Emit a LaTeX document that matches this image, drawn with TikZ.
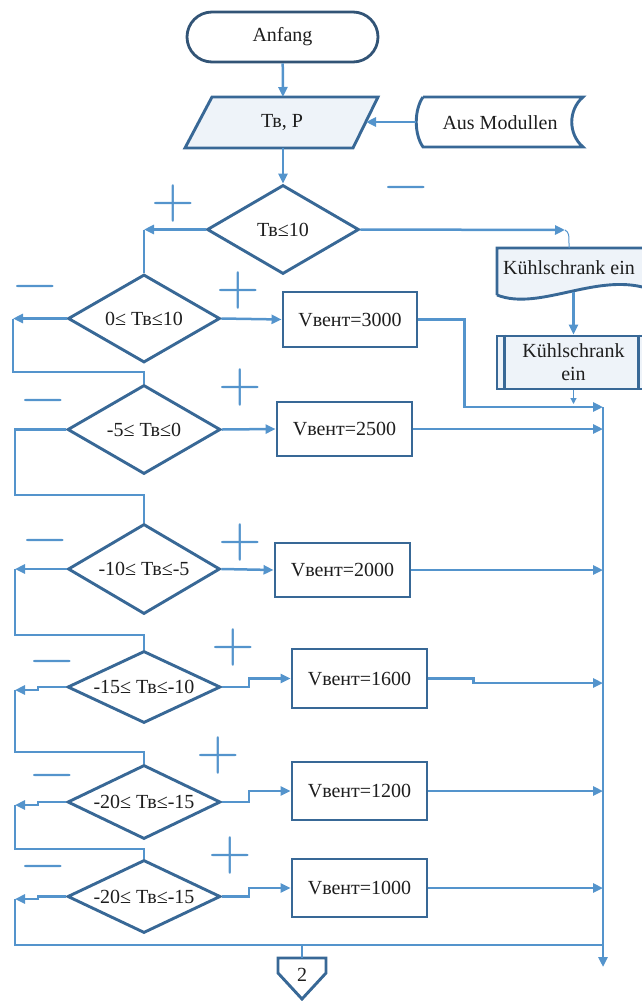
\documentclass[tikz,border=0pt]{standalone}
\usepackage{fontspec}
\setmainfont{Liberation Serif}
\newfontfamily\signfont{lmroman10-regular.otf}
\usepackage{tikz}
\usetikzlibrary{arrows.meta,shapes.geometric}

\definecolor{wireblue}{RGB}{84,148,204}
\definecolor{rimblue}{RGB}{56,104,150}
\definecolor{rimdark}{RGB}{50,84,118}
\definecolor{wash}{RGB}{238,243,249}
\definecolor{ink}{RGB}{30,30,30}

\begin{document}
\begin{tikzpicture}[
  x=1pt, y=-1pt,
  wire/.style={line width=2.5pt, wireblue},
  flow/.style={wire, -{Triangle[length=10pt,width=9pt]}},
  rimline/.style={draw=rimblue, line width=2.9pt},
  term/.style={draw=rimdark, line width=2.8pt, rectangle, rounded corners=25pt,
    minimum width=191pt, minimum height=50pt, fill=white},
  decide/.style={rimline, diamond, fill=white, aspect=2.1, inner sep=0pt},
  act/.style={rimline, rectangle, fill=white, inner sep=0pt},
  plusminus/.style={text=wireblue, inner sep=0pt, font=\signfont\fontsize{56}{56}\selectfont},
  every node/.style={font=\fontsize{20}{23}\selectfont, text=ink}]

\useasboundingbox (0,0) rectangle (641,1001);

% ---- start, input and the outside data --------------------------------
\node[term] (start) at (282.5,37) {Anfang};
\draw[rimline, fill=wash] (212,97) -- (378,97) -- (353,148) -- (185,148) -- cycle;
\node (inp) at (282,122.5) {Тв, Р};
\coordinate (inp-n) at (283,97);
\coordinate (inp-s) at (283,148);
\coordinate (inp-e) at (366,122);
\draw[rimline, fill=white] (423,97) -- (583,97)
  .. controls (568,110) and (568,134) .. (583,147) -- (423,147)
  .. controls (414,134) and (414,110) .. (423,97);
\node (src) at (500,122.5) {Aus Modullen};
\coordinate (src-w) at (416,122);

% ---- the cooler branch (cut by the right edge) -------------------------
\draw[rimline, fill=wash] (497,295) -- (497,248) -- (652,248) -- (652,290)
  .. controls (600,270) and (540,312) .. (497,295);
\node (fridge) at (569,268) {Kühlschrank ein};
\coordinate (fridge-in) at (565,230);
\coordinate (fridge-n) at (569,248);
\coordinate (fridge-s) at (573.5,292);
\node[act, fill=wash, minimum width=153pt, minimum height=53pt, align=center]
  (fridge2) at (573.5,362.5) {Kühlschrank\\ein};
\draw[rimline] ([xshift=9pt]fridge2.north west) -- ([xshift=9pt]fridge2.south west)
               ([xshift=-13pt]fridge2.north east) -- ([xshift=-13pt]fridge2.south east);
\coordinate (fridge-out) at (573.5,404);

% ---- the tests, one row per temperature band ---------------------------
\node[decide, minimum width=152pt, minimum height=89pt] (d1) at (283,229.5) {Тв≤10};
\node[decide, minimum width=152pt, minimum height=88pt] (d2) at (144,318.5) {0≤ Тв≤10};
\node[decide, minimum width=153pt, minimum height=89pt] (d3) at (144,429.5) {-5≤ Тв≤0};
\node[decide, minimum width=152pt, minimum height=90pt] (d4) at (144,569) {-10≤ Тв≤-5};
\node[decide, minimum width=153pt, minimum height=72pt] (d5) at (144,687) {-15≤ Тв≤-10};
\node[decide, minimum width=153pt, minimum height=74pt] (d6) at (144,802) {-20≤ Тв≤-15};
\node[decide, minimum width=153pt, minimum height=73pt] (d7) at (144,896.5) {-20≤ Тв≤-15};

% fan speeds
\node[act, minimum width=134pt, minimum height=55pt] (v1) at (350,319.5) {Vвент=3000};
\node[act, minimum width=135pt, minimum height=54pt] (v2) at (344.5,429) {Vвент=2500};
\node[act, minimum width=135pt, minimum height=54pt] (v3) at (342.5,570) {Vвент=2000};
\node[act, minimum width=135pt, minimum height=59pt] (v4) at (359.5,678.5) {Vвент=1600};
\node[act, minimum width=135pt, minimum height=58pt] (v5) at (359.5,791) {Vвент=1200};
\node[act, minimum width=135pt, minimum height=58pt] (v6) at (359.5,888) {Vвент=1000};

% off-page connector
\draw[rimline, fill=white] (278,958) -- (326,958) -- (326,973) -- (302,999) -- (278,973) -- cycle;
\node (pg) at (302,975) {2};
\coordinate (pg-n) at (302,958);

% ---- junction points ----------------------------------------------------
\coordinate (j1) at (144,229.5);
\coordinate (l2) at (13,318.5);
\coordinate (l3) at (15,429.5);
\coordinate (l4) at (15,569);
\coordinate (l5) at (15,690);
\coordinate (l6) at (15,805);
\coordinate (l7) at (15,899);
\coordinate (r1) at (603,407);
\coordinate (r2) at (603,429);
\coordinate (r3) at (603,570);
\coordinate (r4) at (603,683);
\coordinate (r5) at (603,791);
\coordinate (r6) at (603,888);
\coordinate (tr-b) at (603,945);
\coordinate (b-m) at (302,945);
\coordinate (trunk-end) at (603,967);

% ---- connectors ---------------------------------------------------------
\draw[flow] (start) -- (inp-n);
\draw[flow] (inp-s) -- (d1.north);
\draw[flow] (src-w) -- (inp-e);
\draw[flow] (d1.east) -- (fridge-in);
\draw[wire, line width=1pt] (fridge-in) .. controls (569,233) .. (fridge-n);
\draw[flow] (fridge-s) -- (fridge2.north);
\draw[wire, line width=1.2pt, -{Triangle[length=6pt,width=6pt]}] (fridge2.south) -- (fridge-out);
\draw[flow] (d1.west) -- (j1);
\draw[wire] (j1) -- (d2.north);

% yes: to the fan speed
\draw[flow] (d2.east) -- (v1.west);
\draw[flow] (d3.east) -- (v2.west);
\draw[flow] (d4.east) -- (v3.west);
\draw[flow] (d5.east) -- ++(27,0) |- (v4.west);
\draw[flow] (d6.east) -- ++(27,0) |- (v5.west);
\draw[flow] (d7.east) -- ++(27,0) |- (v6.west);

% no: round to the next test
\draw[flow] (d2.west) -- (l2);
\draw[wire] (l2) -- (13,372) -- (144,372) -- (d3.north);
\draw[wire] (d3.west) -- (l3) -- (15,495) -- (144,495) -- (d4.north);
\draw[flow] (d4.west) -- (l4);
\draw[wire] (l4) -- (15,635) -- (144,635) -- (d5.north);
\draw[flow] (d5.west) -- ++(-28,0) |- (l5);
\draw[wire] (l5) -- (15,752) -- (144,752) -- (d6.north);
\draw[flow] (d6.west) -- ++(-28,0) |- (l6);
\draw[wire] (l6) -- (15,849) -- (144,849) -- (d7.north);
\draw[flow] (d7.west) -- ++(-28,0) |- (l7);
\draw[wire] (l7) |- (tr-b);
\draw[wire] (b-m) -- (pg-n);

% into the trunk
\draw[flow] (v1.east) -- ++(46,0) |- (r1);
\draw[flow] (v2.east) -- (r2);
\draw[flow] (v3.east) -- (r3);
\draw[flow] (v4.east) -- ++(45,0) |- (r4);
\draw[flow] (v5.east) -- (r5);
\draw[flow] (v6.east) -- (r6);
\draw[flow] (r1) -- (trunk-end);

% ---- branch marks -------------------------------------------------------
\node[plusminus] (p1) at (173,203) {+};
\node[plusminus] (m1) at (406,194) {−};
\node[plusminus] (p2) at (238,290) {+};
\node[plusminus] (m2) at (35,293) {−};
\node[plusminus] (p3) at (240,387) {+};
\node[plusminus] (m3) at (43,407) {−};
\node[plusminus] (p4) at (240,542) {+};
\node[plusminus] (m4) at (45,547) {−};
\node[plusminus] (p5) at (233,647) {+};
\node[plusminus] (m5) at (52,668) {−};
\node[plusminus] (p6) at (218,755) {+};
\node[plusminus] (m6) at (52,782) {−};
\node[plusminus] (p7) at (230,855) {+};
\node[plusminus] (m7) at (43,873) {−};

\end{tikzpicture}
\end{document}
